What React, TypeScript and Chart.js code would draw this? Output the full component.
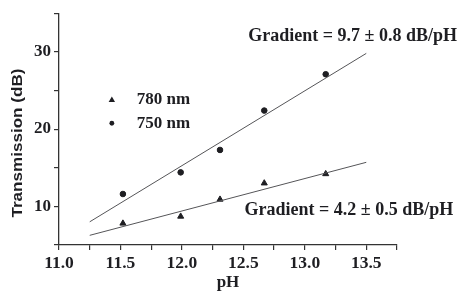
import { useEffect, useRef } from "react";
import { Chart, registerables } from "chart.js";

Chart.register(...registerables);

// ---- data ----
const pHValues = [11.52, 11.99, 12.31, 12.67, 13.17];
const trans750 = [11.6, 14.4, 17.3, 22.4, 27.1];
const trans780 = [7.8, 8.7, 10.9, 13.0, 14.2];
const fitPH = [11.25, 13.5];
const fit750 = [8.0, 29.8];
const fit780 = [6.25, 15.7];
const seriesLabels = ["780 nm", "750 nm"];
const gradientLabels = ["Gradient = 9.7 ± 0.8 dB/pH", "Gradient = 4.2 ± 0.5 dB/pH"];
// annotation anchors in data coordinates [pH, dB]
const gradientAnchorPH = [12.54, 12.51];
const gradientAnchorDB = [31.95, 9.45];
const legendAnchorPH = 11.43;
const legendAnchorDB = [23.8, 20.76];
const xTitle = "pH";
const yTitle = "Transmission (dB)";

const INK = "#1e1e22";
const SERIF = "'Liberation Serif', 'Times New Roman', serif";
const SANS = "'Liberation Sans', Arial, sans-serif";

const overlayPlugin = {
  id: "overlay",
  afterDatasetsDraw(chart: any) {
    const { ctx, scales } = chart;
    const xs = scales.x;
    const ys = scales.y;
    ctx.save();
    ctx.fillStyle = INK;
    ctx.textBaseline = "middle";
    ctx.textAlign = "left";
    // gradient annotations
    ctx.font = `bold 18px ${SERIF}`;
    gradientLabels.forEach((t, i) => {
      ctx.fillText(t, xs.getPixelForValue(gradientAnchorPH[i]), ys.getPixelForValue(gradientAnchorDB[i]));
    });
    // legend
    ctx.font = `bold 17px ${SERIF}`;
    const sx = xs.getPixelForValue(legendAnchorPH);
    seriesLabels.forEach((t, i) => {
      const sy = ys.getPixelForValue(legendAnchorDB[i]);
      ctx.beginPath();
      if (i === 0) {
        ctx.moveTo(sx, sy - 3.2);
        ctx.lineTo(sx + 3.2, sy + 2.3);
        ctx.lineTo(sx - 3.2, sy + 2.3);
        ctx.closePath();
      } else {
        ctx.arc(sx, sy, 2.4, 0, Math.PI * 2);
      }
      ctx.fill();
      ctx.fillText(t, sx + 25, sy);
    });
    // y title (stretched along its length as in the scan)
    const cy = (chart.chartArea.top + chart.chartArea.bottom) / 2 + 14;
    ctx.translate(18, cy);
    ctx.rotate(-Math.PI / 2);
    ctx.scale(1.22, 1);
    ctx.textAlign = "center";
    ctx.font = `bold 14px ${SANS}`;
    ctx.fillText(yTitle, 0, 0);
    ctx.restore();
  },
};

export default function App() {
  const ref = useRef<HTMLCanvasElement>(null);
  useEffect(() => {
    document.body.style.margin = "0";
    const ctx = ref.current!;
    const pts = (xsArr: number[], ysArr: number[]) => xsArr.map((x, i) => ({ x, y: ysArr[i] }));
    const chart = new Chart(ctx, {
      type: "scatter",
      data: {
        datasets: [
          {
            label: "fit 750",
            data: pts(fitPH, fit750),
            showLine: true,
            borderColor: "#555558",
            borderWidth: 1,
            pointRadius: 0,
          },
          {
            label: "fit 780",
            data: pts(fitPH, fit780),
            showLine: true,
            borderColor: "#555558",
            borderWidth: 1,
            pointRadius: 0,
          },
          {
            label: seriesLabels[0],
            data: pts(pHValues, trans780),
            pointStyle: "triangle",
            pointRadius: 3.5,
            backgroundColor: INK,
            borderColor: INK,
            borderWidth: 1,
          },
          {
            label: seriesLabels[1],
            data: pts(pHValues, trans750),
            pointStyle: "circle",
            pointRadius: 2.8,
            backgroundColor: INK,
            borderColor: INK,
            borderWidth: 1,
          },
        ],
      },
      options: {
        responsive: false,
        animation: false,
        devicePixelRatio: 1,
        layout: { padding: { left: 0, top: 9, right: 63, bottom: 0 } },
        plugins: { legend: { display: false }, tooltip: { enabled: false } },
        scales: {
          x: {
            type: "linear",
            min: 11,
            max: 13.75,
            afterFit: (s: any) => {
              s.height = 54;
            },
            border: { color: "#333", width: 1.3 },
            grid: { drawOnChartArea: false, drawTicks: true, tickLength: 5, color: "#333", lineWidth: 1.2 },
            ticks: {
              stepSize: 0.25,
              autoSkip: false,
              maxRotation: 0,
              padding: 3,
              color: INK,
              font: { family: SERIF, weight: "bold", size: 17.5 },
              callback: (v: any) => {
                const n = Number(v);
                return Math.abs(n * 2 - Math.round(n * 2)) < 1e-6 ? n.toFixed(1) : "";
              },
            },
            title: {
              display: true,
              text: xTitle,
              color: INK,
              font: { family: SERIF, weight: "bold", size: 17 },
              padding: { top: 0, bottom: 6 },
            },
          },
          y: {
            type: "linear",
            min: 5,
            max: 35,
            afterFit: (s: any) => {
              s.width = 59;
            },
            border: { color: "#333", width: 1.3 },
            grid: { drawOnChartArea: false, drawTicks: true, tickLength: 5, color: "#333", lineWidth: 1.2 },
            ticks: {
              stepSize: 5,
              autoSkip: false,
              padding: 3,
              color: INK,
              font: { family: SERIF, weight: "bold", size: 17 },
              callback: (v: any) => (Number(v) % 10 === 0 ? String(v) : ""),
            },
          },
        },
      },
      plugins: [overlayPlugin],
    } as any);
    return () => chart.destroy();
  }, []);
  return (
    <div style={{ position: "absolute", left: 0, top: 0, width: 460, height: 299, background: "#fff" }}>
      <canvas ref={ref} width={460} height={299} />
    </div>
  );
}
